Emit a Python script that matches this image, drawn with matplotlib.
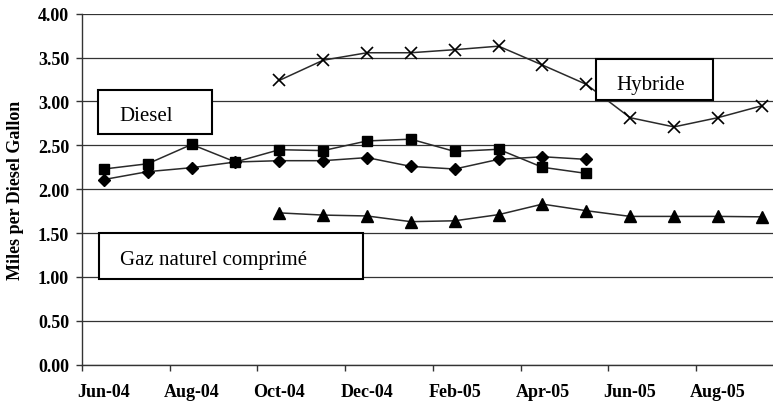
import matplotlib
matplotlib.use("Agg")
import matplotlib.pyplot as plt
from matplotlib.patches import Rectangle

# Month categories (Jun-04 .. Sep-05)
months = ["Jun-04", "Jul-04", "Aug-04", "Sep-04", "Oct-04", "Nov-04", "Dec-04", "Jan-05",
          "Feb-05", "Mar-05", "Apr-05", "May-05", "Jun-05", "Jul-05", "Aug-05", "Sep-05"]

# Diesel fleet 1 (diamonds), Jun-04 .. May-05
diesel_a = [2.11, 2.20, 2.245, 2.31, 2.325, 2.325, 2.36, 2.26, 2.23, 2.34, 2.37, 2.34]
# Diesel fleet 2 (squares), Jun-04 .. May-05
diesel_b = [2.23, 2.29, 2.51, 2.31, 2.45, 2.44, 2.55, 2.57, 2.43, 2.455, 2.25, 2.18]
# Hybrid (crosses), Oct-04 .. Sep-05
hybrid = [3.24, 3.47, 3.555, 3.555, 3.59, 3.63, 3.415, 3.195, 2.815, 2.71, 2.815, 2.95]
# CNG (triangles), Oct-04 .. Sep-05
cng = [1.73, 1.705, 1.695, 1.63, 1.64, 1.71, 1.83, 1.755, 1.69, 1.69, 1.69, 1.685]

yticks = [0.0, 0.5, 1.0, 1.5, 2.0, 2.5, 3.0, 3.5, 4.0]

plt.rcParams['font.family'] = ['Liberation Serif', 'DejaVu Serif']

fig = plt.figure(figsize=(7.73, 4.02), dpi=100)
ax = fig.add_axes([82 / 773, 1 - 365.7 / 402, 701.6 / 773, 351 / 402])

x_all = list(range(len(months)))
x_diesel = x_all[:len(diesel_a)]
x_late = x_all[4:4 + len(hybrid)]

line_col = "#2a2a2a"
ax.plot(x_diesel, diesel_a, color=line_col, lw=1.1, marker="D", ms=6,
        mfc="black", mec="black", zorder=3)
ax.plot(x_diesel, diesel_b, color=line_col, lw=1.1, marker="s", ms=7.5,
        mfc="black", mec="black", zorder=3)
ax.plot(x_late, hybrid, color=line_col, lw=1.1, marker="x", ms=8, mew=1.2,
        mec="black", zorder=3)
ax.plot(x_late, cng, color=line_col, lw=1.1, marker="^", ms=8,
        mfc="black", mec="black", zorder=3)

ax.set_xlim(-0.5, len(months) - 0.5)
ax.set_ylim(0, 4)
ax.set_yticks(yticks)
ax.set_yticklabels([f"{v:.2f}" for v in yticks], fontsize=13, fontweight="bold")
ax.yaxis.grid(True, color="#333333", lw=0.9)
ax.set_axisbelow(True)

# labels every 2 months centred on category, tick marks at boundaries
ax.set_xticks(x_all[::2])
ax.set_xticklabels(months[::2], fontsize=13, fontweight="bold")
ax.tick_params(axis="x", which="major", length=0, pad=13)
ax.set_xticks([i - 0.5 for i in x_all[::2]], minor=True)
ax.tick_params(axis="x", which="minor", length=4, width=1, color="#333333")
ax.tick_params(axis="y", length=4.3, width=1, color="#333333", pad=5)

for s in ["top", "right"]:
    ax.spines[s].set_visible(False)
for s in ["left", "bottom"]:
    ax.spines[s].set_color("#333333")
    ax.spines[s].set_linewidth(1.0)

ax.set_ylabel("Miles per Diesel Gallon", fontsize=13, fontweight="bold")
ax.yaxis.set_label_coords((24 - 82) / 701.6, 0.5)

# Text boxes (pixel coords of the reference): label, box x0, y0, x1, y1, text x, baseline
boxes = [
    ("Diesel", 98, 90.7, 212, 135, 119, 121),
    ("Hybride", 596, 60, 712.5, 100.5, 616.5, 90),
    ("Gaz naturel comprimé", 99, 233.5, 363, 280, 120, 264.7),
]
for label, x0, y0, x1, y1, tx, ty in boxes:
    r = Rectangle((x0 / 773, 1 - y1 / 402), (x1 - x0) / 773, (y1 - y0) / 402,
                  transform=fig.transFigure, facecolor="white", edgecolor="black",
                  lw=1.5, zorder=10)
    fig.patches.append(r)
    fig.text(tx / 773, 1 - ty / 402, label, fontsize=15,
             ha="left", va="baseline", zorder=11)

fig.savefig("out.png", dpi=100)
